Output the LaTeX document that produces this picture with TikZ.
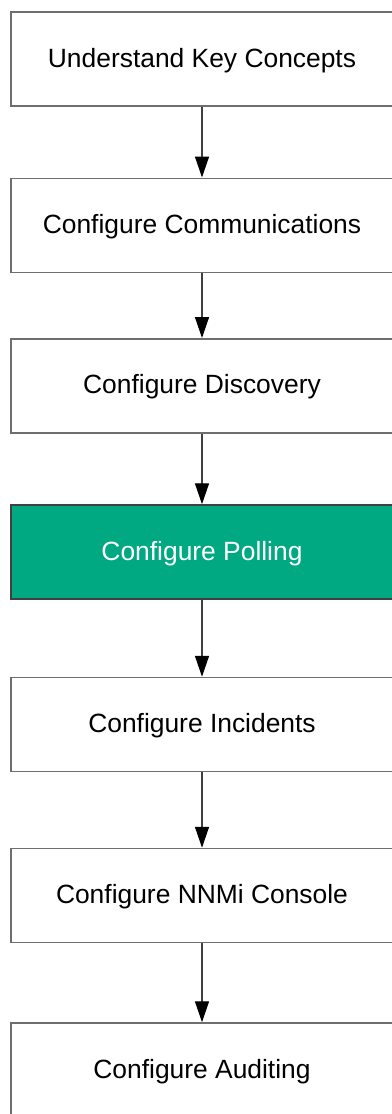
\documentclass[tikz,border=0pt]{standalone}
\usepackage{fontspec}
\setmainfont{Liberation Sans}
\usetikzlibrary{arrows.meta}
\definecolor{boxborder}{HTML}{6E6E6E}
\definecolor{hpegreen}{HTML}{01A982}
\definecolor{greenborder}{HTML}{404040}
\definecolor{arrowcol}{HTML}{404040}
\tikzset{
  stepbox/.style={draw=boxborder, line width=1.5pt, fill=white, minimum width=382pt, minimum height=94pt, inner sep=0pt, text height=19pt, text depth=3pt, font=\fontsize{26.4pt}{30pt}\selectfont, text=black},
  greenbox/.style={stepbox, fill=hpegreen, draw=greenborder, text=white},
  flow/.style={draw=arrowcol, line width=1.4pt, -{Triangle[length=21pt,width=14pt,fill=black,color=black]}, shorten >=0pt}
}
\begin{document}
\begin{tikzpicture}[x=1pt,y=-1pt]
\useasboundingbox (0,0) rectangle (391,1114);
\node[stepbox] (n1) at (202,59) {Understand Key Concepts};
\node[stepbox] (n2) at (202,225.25) {Configure Communications};
\node[stepbox] (n3) at (202,385.75) {Configure Discovery};
\node[greenbox] (n4) at (202,552) {Configure Polling};
\node[stepbox] (n5) at (202,724.5) {Configure Incidents};
\node[stepbox] (n6) at (202,895.5) {Configure NNMi Console};
\node[stepbox] (n7) at (202,1070) {Configure Auditing};
\draw[flow] (n1) -- (n2);
\draw[flow] (n2) -- (n3);
\draw[flow] (n3) -- (n4);
\draw[flow] (n4) -- (n5);
\draw[flow] (n5) -- (n6);
\draw[flow] (n6) -- (n7);
\end{tikzpicture}
\end{document}
